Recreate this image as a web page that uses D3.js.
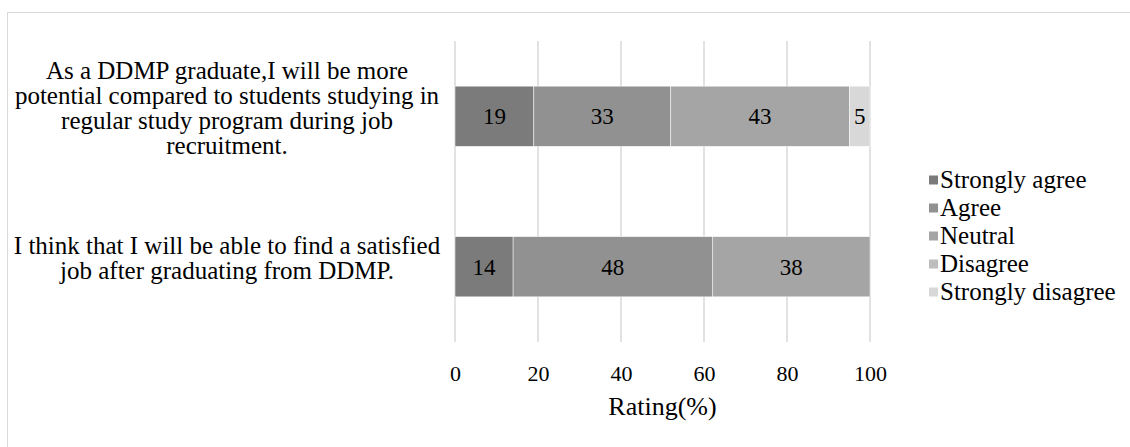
<!DOCTYPE html>
<html>
<head>
<meta charset="utf-8">
<script src="https://cdn.jsdelivr.net/npm/d3@7"></script>
<style>
  html, body { margin: 0; padding: 0; background: #fff; }
</style>
</head>
<body>
<svg id="chart" width="1130" height="447"></svg>
<script>
// Survey statements (top to bottom) and their wrapped lines
const statements = [
  ["As a DDMP graduate,I will be more",
   "potential compared to students studying in",
   "regular study program during job",
   "recruitment."],
  ["I think that I will be able to find a satisfied",
   "job after graduating from DDMP."]
];
const responses = ["Strongly agree", "Agree", "Neutral", "Disagree", "Strongly disagree"];
const shades = ["#7b7b7b", "#919191", "#a5a5a5", "#bdbdbd", "#d8d8d8"];

// Percentage per response for each statement
const stronglyAgree    = [19, 14];
const agree            = [33, 48];
const neutral          = [43, 38];
const disagree         = [0, 0];
const stronglyDisagree = [5, 0];
const xTicks = [0, 20, 40, 60, 80, 100];
const xTitle = "Rating(%)";

const FONT = "Times New Roman, Times, Liberation Serif, Tinos, DejaVu Serif, serif";

const rows = statements.map((s, i) => ({
  id: i,
  "Strongly agree": stronglyAgree[i],
  "Agree": agree[i],
  "Neutral": neutral[i],
  "Disagree": disagree[i],
  "Strongly disagree": stronglyDisagree[i]
}));

const svg = d3.select("#chart").style("font-family", FONT);

// Outer frame
svg.append("rect")
  .attr("x", 7.5).attr("y", 12.5)
  .attr("width", 1140).attr("height", 460)
  .attr("fill", "none").attr("stroke", "#d9d9d9").attr("stroke-width", 1);

const plot = { left: 455, right: 870, top: 41, bottom: 342 };

const x = d3.scaleLinear().domain([0, 100]).range([plot.left, plot.right]);
const y = d3.scaleBand()
  .domain(rows.map(r => r.id))
  .range([plot.top, plot.bottom])
  .paddingInner(0.6).paddingOuter(0.3);
const color = d3.scaleOrdinal().domain(responses).range(shades);

// Vertical gridlines
svg.append("g").selectAll("line")
  .data(xTicks).join("line")
  .attr("x1", d => x(d)).attr("x2", d => x(d))
  .attr("y1", plot.top).attr("y2", plot.bottom)
  .attr("stroke", "#d9d9d9").attr("stroke-width", 1.5);

// Stacked bars
const stacked = d3.stack().keys(responses)(rows);
const layers = svg.append("g").selectAll("g")
  .data(stacked).join("g")
  .attr("fill", d => color(d.key));

layers.selectAll("rect")
  .data(d => d.filter(p => p[1] - p[0] > 0))
  .join("rect")
  .attr("x", d => x(d[0]))
  .attr("y", d => y(d.data.id))
  .attr("width", d => x(d[1]) - x(d[0]))
  .attr("height", y.bandwidth())
  .attr("stroke", "#ffffff").attr("stroke-width", 0.5);

// Segment value labels
layers.selectAll("text")
  .data(d => d.filter(p => p[1] - p[0] > 0))
  .join("text")
  .attr("x", d => (x(d[0]) + x(d[1])) / 2)
  .attr("y", d => y(d.data.id) + y.bandwidth() / 2)
  .attr("dy", "0.35em")
  .attr("text-anchor", "middle")
  .style("font-family", FONT)
  .attr("font-size", 23)
  .attr("fill", "#000")
  .text(d => d[1] - d[0]);

// Category labels, centred on each bar
const lineH = 25;
const cat = svg.append("g").selectAll("text")
  .data(statements).join("text")
  .attr("text-anchor", "middle")
  .style("font-family", FONT)
  .attr("font-size", 25)
  .attr("fill", "#000")
  .attr("y", (d, i) => y(i) + y.bandwidth() / 2 - (d.length - 1) * lineH / 2)
  .attr("dy", "0.33em");
cat.selectAll("tspan")
  .data(d => d).join("tspan")
  .attr("x", 227)
  .attr("dy", (d, j) => j === 0 ? 0 : lineH)
  .text(d => d);

// Bottom axis: labels only
const axis = svg.append("g")
  .attr("transform", `translate(0,${plot.bottom})`)
  .call(d3.axisBottom(x).tickValues(xTicks).tickSize(0).tickPadding(23));
axis.select(".domain").remove();
axis.selectAll("text")
  .style("font-family", FONT)
  .attr("font-size", 22).attr("fill", "#000");

svg.append("text")
  .attr("x", (plot.left + plot.right) / 2)
  .attr("y", 415)
  .attr("text-anchor", "middle")
  .style("font-family", FONT)
  .attr("font-size", 26)
  .attr("fill", "#000")
  .text(xTitle);

// Legend
const legend = svg.append("g").selectAll("g")
  .data(responses).join("g")
  .attr("transform", (d, i) => `translate(929,${180 + i * 28})`);
legend.append("rect")
  .attr("x", 0).attr("y", -4.5)
  .attr("width", 9).attr("height", 9)
  .attr("fill", d => color(d));
legend.append("text")
  .attr("x", 11).attr("y", 0).attr("dy", "0.33em")
  .style("font-family", FONT)
  .attr("font-size", 25).attr("fill", "#000")
  .text(d => d);
</script>
</body>
</html>
